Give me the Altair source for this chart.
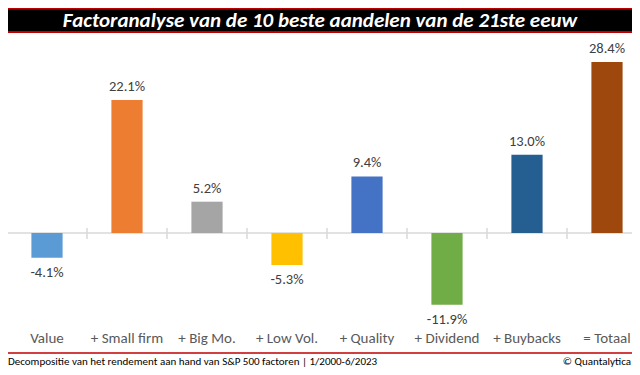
import altair as alt
import pandas as pd

categories = ["Value", "+ Small firm", "+ Big Mo.", "+ Low Vol.", "+ Quality", "+ Dividend", "+ Buybacks", "= Totaal"]
values = [-4.1, 22.1, 5.2, -5.3, 9.4, -11.9, 13.0, 28.4]
colors = ["#5B9BD5", "#ED7D31", "#A5A5A5", "#FFC000", "#4472C4", "#70AD47", "#255E91", "#9E480E"]

title_text = "Factoranalyse van de 10 beste aandelen van de 21ste eeuw"
footer_left = "Decompositie van het rendement aan hand van S&P 500 factoren | 1/2000-6/2023"
footer_right = "© Quantalytica"

W, H = 624, 359
FONT = "Carlito, Calibri, Lato, sans-serif"

df = pd.DataFrame({"cat": categories, "value": values})
one = pd.DataFrame({"z": [0]})

xscale = alt.Scale(domain=categories, range=[-1, 639], paddingInner=0.61, paddingOuter=0.305)
yscale = alt.Scale(domain=[-22.26, 37.375], nice=False, zero=False)

base = alt.Chart(df).transform_calculate(
    label="(datum.value < 0 ? '-' : '') + format(abs(datum.value), '.1f') + '%'"
)

bars = base.mark_bar().encode(
    x=alt.X("cat:N", sort=categories, scale=xscale, axis=None),
    y=alt.Y("value:Q", scale=yscale, axis=None),
    y2=alt.datum(0),
    color=alt.Color("cat:N", scale=alt.Scale(domain=categories, range=colors), legend=None),
)

pos_labels = base.transform_filter("datum.value >= 0").mark_text(
    font=FONT, fontSize=14.5, color="#404040", baseline="alphabetic", dy=-9
).encode(
    x=alt.X("cat:N", sort=categories, scale=xscale, axis=None),
    y=alt.Y("value:Q", scale=yscale, axis=None),
    text="label:N",
)

neg_labels = base.transform_filter("datum.value < 0").mark_text(
    font=FONT, fontSize=14.5, color="#404040", baseline="alphabetic", dy=19
).encode(
    x=alt.X("cat:N", sort=categories, scale=xscale, axis=None),
    y=alt.Y("value:Q", scale=yscale, axis=None),
    text="label:N",
)

cat_labels = base.mark_text(
    font=FONT, fontSize=15, color="#595959", baseline="alphabetic"
).encode(
    x=alt.X("cat:N", sort=categories, scale=xscale, axis=None),
    y=alt.value(335),
    text="cat:N",
)

zero_line = alt.Chart(one).mark_rule(color="#D9D9D9", strokeWidth=1.5).encode(
    y=alt.Y("z:Q", scale=yscale, axis=None),
    x=alt.value(0),
    x2=alt.value(W),
)

ticks = alt.Chart(df).mark_rule(color="#D9D9D9", strokeWidth=1.5).encode(
    x=alt.X("cat:N", sort=categories, bandPosition=0,
            scale=alt.Scale(domain=categories, range=[-1, 639], paddingInner=0, paddingOuter=0),
            axis=None),
    y=alt.value(220),
    y2=alt.value(231),
)

red_bar = alt.Chart(one).mark_rect(color="#C00000").encode(
    x=alt.value(0), x2=alt.value(W), y=alt.value(0), y2=alt.value(25)
)
black_bar = alt.Chart(one).mark_rect(color="#000000").encode(
    x=alt.value(0), x2=alt.value(W), y=alt.value(1.5), y2=alt.value(23)
)
title = alt.Chart(one).mark_text(
    text=title_text, font=FONT, fontSize=21, fontStyle="italic", fontWeight="bold",
    color="white", align="center", baseline="alphabetic"
).encode(x=alt.value(312), y=alt.value(18.5))

footer_line = alt.Chart(one).mark_rule(color="#C00000", strokeWidth=1.5).encode(
    x=alt.value(0), x2=alt.value(W), y=alt.value(345)
)
footer_l = alt.Chart(one).mark_text(
    text=footer_left, font=FONT, fontSize=11, color="#000000", align="left", baseline="alphabetic"
).encode(x=alt.value(0), y=alt.value(357))
footer_r = alt.Chart(one).mark_text(
    text=footer_right, font=FONT, fontSize=11, color="#000000", align="right", baseline="alphabetic"
).encode(x=alt.value(623), y=alt.value(357))

chart = alt.layer(
    zero_line, ticks, bars, pos_labels, neg_labels, cat_labels,
    red_bar, black_bar, title, footer_line, footer_l, footer_r
).resolve_scale(x="independent").properties(
    width=W, height=H, autosize=alt.AutoSizeParams(type="none"), padding=0,
    background="white"
).configure_view(stroke=None)

chart.save("out.html", embed_options={"renderer": "svg", "actions": False})
